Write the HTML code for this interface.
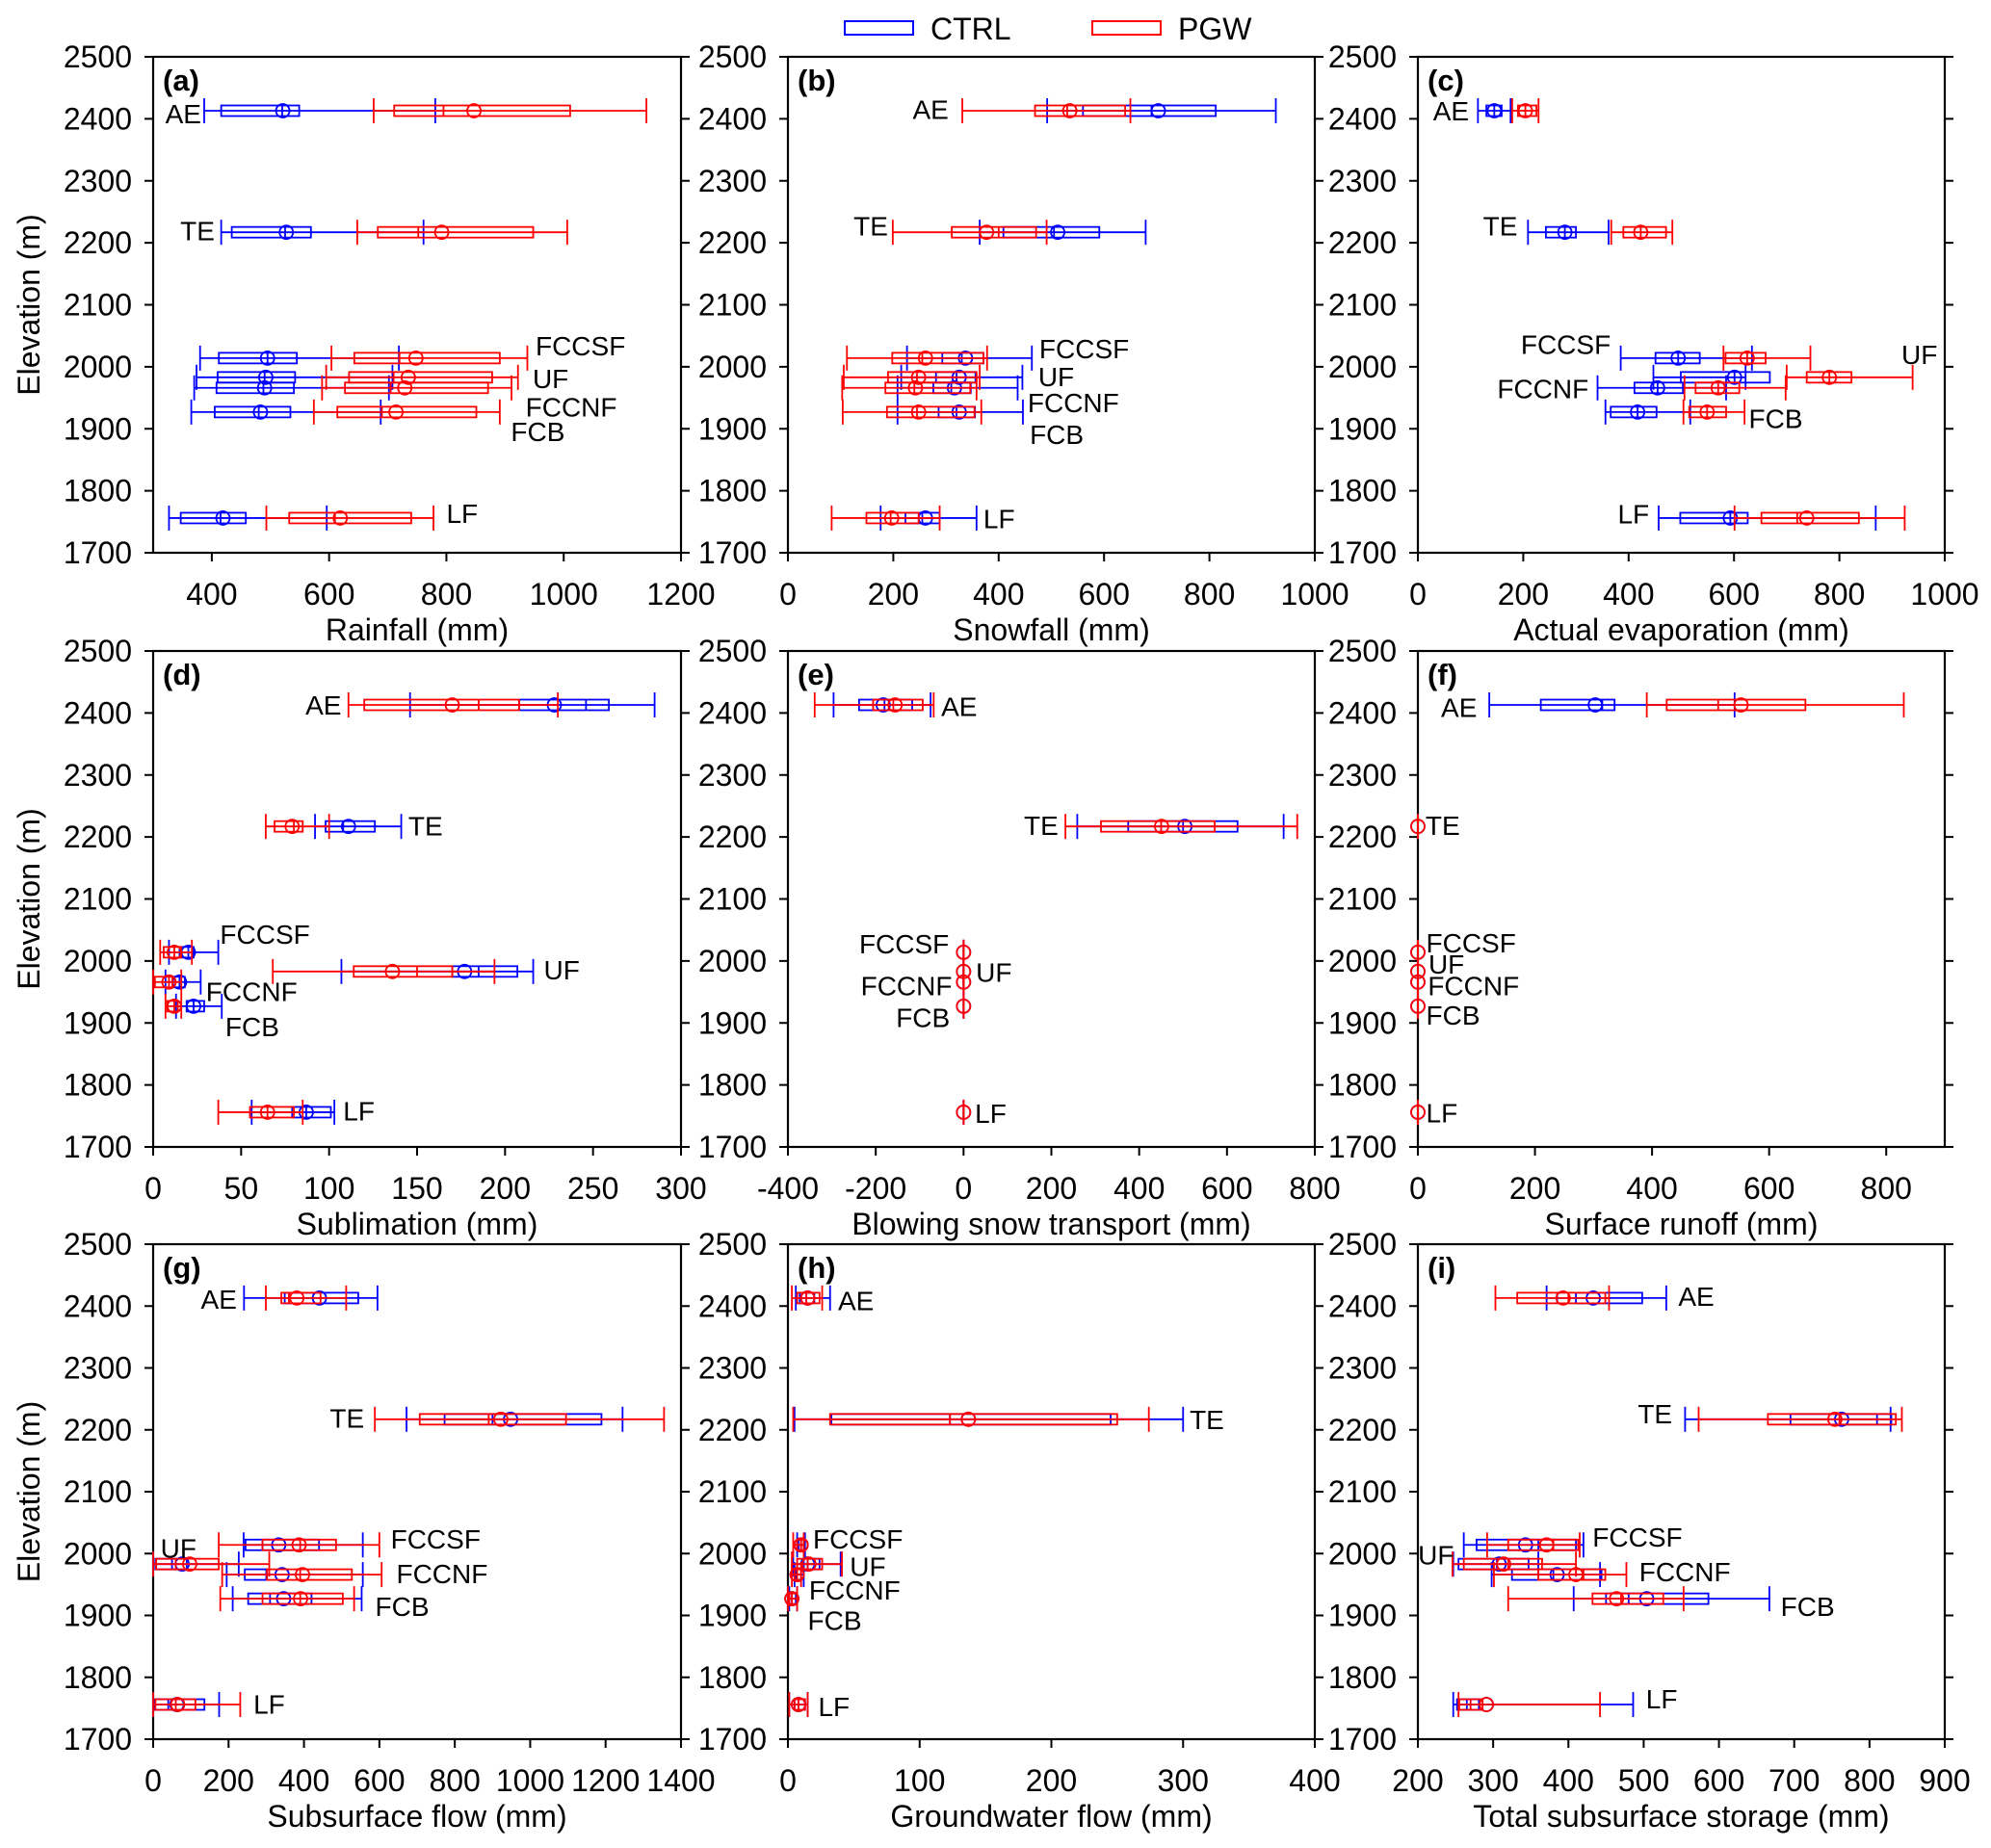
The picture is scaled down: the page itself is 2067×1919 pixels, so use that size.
<!DOCTYPE html>
<html><head><meta charset="utf-8"><style>
html,body{margin:0;padding:0;background:#fff;}
svg{display:block;font-family:"Liberation Sans",Arial,sans-serif;}
</style></head><body>
<svg id="fig" width="2067" height="1919" viewBox="0 0 2067 1919" xmlns="http://www.w3.org/2000/svg">
<g>
<rect x="877" y="22" width="71" height="14" fill="none" stroke="#0000ff" stroke-width="2"/>
<text x="966" y="41" font-size="32">CTRL</text>
<rect x="1134" y="22" width="71" height="14" fill="none" stroke="#ff0000" stroke-width="2"/>
<text x="1223" y="41" font-size="32">PGW</text>
</g>
</svg>
<script>
// sites and elevations
const sites = ["AE","TE","FCCSF","UF","FCCNF","FCB","LF"];
const elevations = [2413,2217,2014,1983,1966,1927,1756];
// each row: [whiskerMin, q1, median, q3, whiskerMax, mean]
const ctrlA = [[387,416,520,549,781,521],[416,434,525,569,761,527],[380,412,495,545,719,495],[374,410,490,542,708,492],[370,408,488,540,702,490],[365,405,480,534,688,483],[327,347,415,458,596,419]];
const pgwA  = [[676,711,795,1011,1141,847],[648,683,752,948,1006,792],[604,643,720,891,938,748],[595,634,710,878,922,735],[588,627,705,871,911,729],[574,614,690,851,891,714],[493,532,610,740,778,619]];
const ctrlB = [[492,560,690,812,926,703],[364,409,505,591,679,512],[226,293,330,371,463,337],[215,281,320,356,445,325],[208,276,310,347,436,316],[208,286,320,355,446,325],[176,223,255,288,358,261]];
const pgwB  = [[331,469,530,640,650,535],[199,311,400,471,491,377],[112,198,255,371,378,261],[106,190,245,358,364,248],[103,185,240,346,358,242],[104,188,245,354,367,248],[83,149,195,248,288,197]];
const ctrlC = [[114,130,145,159,176,145],[209,243,279,300,362,279],[385,451,494,535,634,494],[447,499,601,668,622,601],[341,411,455,503,585,455],[356,366,417,453,517,417],[457,498,593,626,869,593]];
const pgwC  = [[179,190,204,225,229,204],[367,390,423,471,483,423],[580,584,625,660,745,625],[700,738,781,823,939,781],[506,527,570,610,698,570],[504,515,549,585,620,549],[601,652,720,837,924,738]];
const ctrlD = [[146,208,246,259,285,228],[92,98,108,126,141,111],[9,15,20,23,37,20],[107,170,185,207,216,177],[7,11,15,18,27,15],[13,19,23,29,39,23],[56,79,87,101,103,87]];
const pgwD  = [[111,120,185,208,230,170],[64,69,80,85,100,79],[4,6,12,16,22,12],[68,114,150,170,194,136],[0,1,9,11,16,9],[7,8,12,14,16,12],[37,55,65,80,85,65]];
const ctrlE = [[-296,-238,-180,-117,-75,-183],[259,375,500,624,729,504],[0,0,0,0,0,0],[0,0,0,0,0,0],[0,0,0,0,0,0],[0,0,0,0,0,0],[0,0,0,0,0,0]];
const pgwE  = [[-339,-206,-160,-93,-68,-156],[232,313,450,572,760,451],[0,0,0,0,0,0],[0,0,0,0,0,0],[0,0,0,0,0,0],[0,0,0,0,0,0],[0,0,0,0,0,0]];
const ctrlF = [[122,210,315,336,541,303],[0,0,0,0,0,0],[0,0,0,0,0,0],[0,0,0,0,0,0],[0,0,0,0,0,0],[0,0,0,0,0,0],[0,0,0,0,0,0]];
const pgwF  = [[391,425,513,662,830,552],[0,0,0,0,0,0],[0,0,0,0,0,0],[0,0,0,0,0,0],[0,0,0,0,0,0],[0,0,0,0,0,0],[0,0,0,0,0,0]];
const ctrlG = [[241,349,360,544,595,441],[672,773,900,1189,1245,948],[240,245,290,440,556,333],[0,6,50,89,227,77],[195,243,300,302,556,342],[211,252,310,420,553,346],[0,4,40,136,175,63]];
const pgwG  = [[299,340,360,444,512,381],[588,707,890,1095,1355,922],[174,290,390,485,600,387],[0,8,60,174,308,97],[183,302,390,527,606,396],[178,290,390,503,533,391],[0,6,60,112,231,65]];
const ctrlH = [[6,9,14,20,32,15],[5,33,123,245,300,137],[7,8,10,12,13,10],[4,12,15,24,40,15],[5,6,7,10,12,7],[1,1,3,6,7,3],[1,5,8,13,15,8]];
const pgwH  = [[3,7,14,24,26,15],[4,32,123,250,274,137],[4,7,10,12,12,10],[3,7,15,26,41,16],[3,5,7,10,10,7],[0,1,3,7,7,3],[1,5,8,13,15,8]];
const ctrlI = [[371,410,385,498,530,433],[555,695,810,829,828,763],[261,278,360,410,420,343],[247,254,305,347,360,308],[298,325,380,444,442,385],[407,450,480,586,667,504],[247,252,265,281,486,291]];
const pgwI  = [[303,332,400,449,454,393],[573,665,760,835,843,754],[292,320,380,413,415,371],[246,261,320,365,410,314],[301,360,420,449,477,410],[320,432,470,526,553,464],[254,255,270,286,442,291]];
// tick labels
const yTicks = [1700,1800,1900,2000,2100,2200,2300,2400,2500];
const xTicksA = [400,600,800,1000,1200];
const xTicksB = [0,200,400,600,800,1000];
const xTicksC = [0,200,400,600,800,1000];
const xTicksD = [0,50,100,150,200,250,300];
const xTicksE = [-400,-200,0,200,400,600,800];
const xTicksF = [0,200,400,600,800];
const xTicksG = [0,200,400,600,800,1000,1200,1400];
const xTicksH = [0,100,200,300,400];
const xTicksI = [200,300,400,500,600,700,800,900];
// site label positions in data units: [x, elevation, anchor]
const labelsA = [[382,2408,"end"],[405,2220,"end"],[952,2034,"start"],[947,1981,"start"],[935,1935,"start"],[910,1896,"start"],[800,1764,"start"]];
const labelsB = [[305,2415,"end"],[190,2227,"end"],[477,2029,"start"],[475,1984,"start"],[455,1942,"start"],[459,1891,"start"],[371,1755,"start"]];
const labelsC = [[97,2413,"end"],[189,2227,"end"],[366,2036,"end"],[986,2020,"end"],[324,1965,"end"],[628,1917,"start"],[439,1763,"end"]];
const labelsD = [[107,2413,"end"],[145,2218,"start"],[38,2043,"start"],[222,1986,"start"],[30,1951,"start"],[41,1894,"start"],[108,1758,"start"]];
const labelsE = [[-51,2411,"start"],[216,2219,"end"],[-33,2028,"end"],[28,1982,"start"],[-26,1960,"end"],[-31,1909,"end"],[26,1754,"start"]];
const labelsF = [[101,2409,"end"],[13,2219,"start"],[14,2029,"start"],[18,1995,"start"],[17,1960,"start"],[14,1913,"start"],[14,1755,"start"]];
const labelsG = [[222,2411,"end"],[560,2219,"end"],[630,2024,"start"],[115,2009,"end"],[645,1968,"start"],[589,1915,"start"],[266,1757,"start"]];
const labelsH = [[38,2409,"start"],[305,2217,"start"],[19,2024,"start"],[47,1979,"start"],[16,1941,"start"],[15,1892,"start"],[23,1753,"start"]];
const labelsI = [[546,2416,"start"],[538,2226,"end"],[432,2027,"start"],[248,1998,"end"],[494,1971,"start"],[682,1915,"start"],[503,1765,"start"]];

const panels = [
 {id:"a",col:0,row:0,xmin:300,xmax:1200,ticks:xTicksA,title:"Rainfall (mm)",c:ctrlA,p:pgwA,l:labelsA},
 {id:"b",col:1,row:0,xmin:0,xmax:1000,ticks:xTicksB,title:"Snowfall (mm)",c:ctrlB,p:pgwB,l:labelsB},
 {id:"c",col:2,row:0,xmin:0,xmax:1000,ticks:xTicksC,title:"Actual evaporation (mm)",c:ctrlC,p:pgwC,l:labelsC},
 {id:"d",col:0,row:1,xmin:0,xmax:300,ticks:xTicksD,title:"Sublimation (mm)",c:ctrlD,p:pgwD,l:labelsD},
 {id:"e",col:1,row:1,xmin:-400,xmax:800,ticks:xTicksE,title:"Blowing snow transport (mm)",c:ctrlE,p:pgwE,l:labelsE},
 {id:"f",col:2,row:1,xmin:0,xmax:900,ticks:xTicksF,title:"Surface runoff (mm)",c:ctrlF,p:pgwF,l:labelsF},
 {id:"g",col:0,row:2,xmin:0,xmax:1400,ticks:xTicksG,title:"Subsurface flow (mm)",c:ctrlG,p:pgwG,l:labelsG},
 {id:"h",col:1,row:2,xmin:0,xmax:400,ticks:xTicksH,title:"Groundwater flow (mm)",c:ctrlH,p:pgwH,l:labelsH},
 {id:"i",col:2,row:2,xmin:200,xmax:900,ticks:xTicksI,title:"Total subsurface storage (mm)",c:ctrlI,p:pgwI,l:labelsI}
];
const colsPx = [[159,707],[818,1365],[1472,2019]];
const rowsPx = [[59,574],[676,1191],[1292,1806]];
const NS = "http://www.w3.org/2000/svg";
const svg = document.getElementById("fig");
function mk(tag, attrs, parent){
  const e = document.createElementNS(NS, tag);
  for (const k in attrs) e.setAttribute(k, attrs[k]);
  parent.appendChild(e);
  return e;
}
panels.forEach(P => {
  const [L,R] = colsPx[P.col], [T,B] = rowsPx[P.row];
  const xs = v => L + (v - P.xmin) / (P.xmax - P.xmin) * (R - L);
  const ys = v => B - (v - 1700) / 800 * (B - T);
  const g = mk("g", {}, svg);
  
  
  const frame = mk("rect", {x:L,y:T,width:R-L,height:B-T,fill:"none",stroke:"#000","stroke-width":2.2}, g);
  
  
  yTicks.forEach(t => {
    const y = ys(t);
    mk("line", {x1:L-9,x2:L,y1:y,y2:y,stroke:"#000","stroke-width":2}, g);
    mk("line", {x1:R,x2:R+9,y1:y,y2:y,stroke:"#000","stroke-width":2}, g);
    const tl = mk("text", {x:L-22,y:y+11,"font-size":32,"text-anchor":"end"}, g);
    tl.textContent = t;
    
    
  });
  P.ticks.forEach(t => {
    const x = xs(t);
    mk("line", {x1:x,x2:x,y1:B,y2:B+9,stroke:"#000","stroke-width":2}, g);
    const tl = mk("text", {x:x,y:B+54,"font-size":32,"text-anchor":"middle"}, g);
    tl.textContent = t;
    
    
  });
  const xt = mk("text", {x:(L+R)/2,y:B+91,"font-size":32,"text-anchor":"middle"}, g);
  xt.textContent = P.title;
  
  
  if (P.col === 0) {
    const yt = mk("text", {x:0,y:0,"font-size":32,"text-anchor":"middle",transform:`translate(41,${(T+B)/2}) rotate(-90)`}, g);
    yt.textContent = "Elevation (m)";
    
    
  }
  const pl = mk("text", {x:L+10,y:T+35,"font-size":31,"font-weight":"bold"}, g);
  pl.textContent = "(" + P.id + ")";
  
  
  [[P.c,"#0000ff","ctrl"],[P.p,"#ff0000","pgw"]].forEach(([data,col,nm]) => {
    data.forEach((d,i) => {
      const y = ys(elevations[i]);
      const bg = mk("g", {stroke:col,fill:"none","stroke-width":1.8}, g);
      
      
      mk("line", {x1:xs(d[0]),x2:xs(d[4]),y1:y,y2:y}, bg);
      mk("line", {x1:xs(d[0]),x2:xs(d[0]),y1:y-13,y2:y+13}, bg);
      mk("line", {x1:xs(d[4]),x2:xs(d[4]),y1:y-13,y2:y+13}, bg);
      const x1 = xs(Math.min(d[1],d[3])), x3 = xs(Math.max(d[1],d[3]));
      mk("rect", {x:x1,y:y-5.5,width:Math.max(0,x3-x1),height:11}, bg);
      mk("line", {x1:xs(d[2]),x2:xs(d[2]),y1:y-5.5,y2:y+5.5}, bg);
      mk("circle", {cx:xs(d[5]),cy:y,r:7}, bg);
    });
  });
  P.l.forEach((lb,i) => {
    const t = mk("text", {x:xs(lb[0]),y:ys(lb[1])+10,"font-size":28,"text-anchor":lb[2]}, g);
    t.textContent = sites[i];
    
    
  });
});
</script>
</body></html>
